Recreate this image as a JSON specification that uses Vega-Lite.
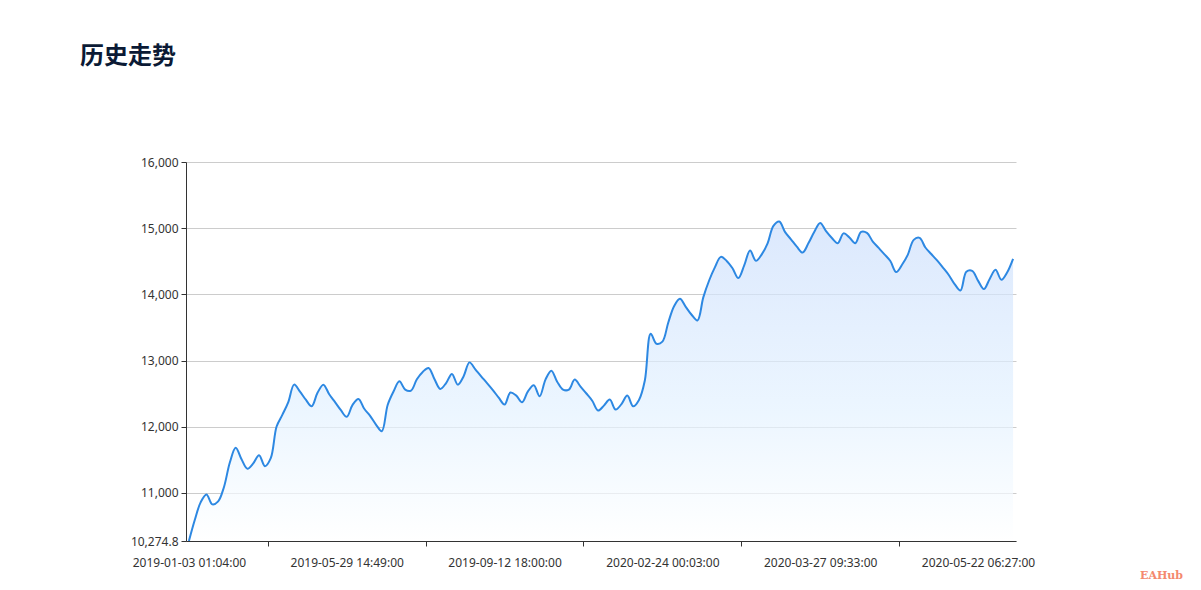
{
  "$schema": "https://vega.github.io/schema/vega-lite/v6.json",
  "description": "历史走势 area chart",
  "width": 830,
  "height": 379,
  "autosize": {"type": "none"},
  "padding": {"left": 186, "top": 162, "right": 185, "bottom": 49},
  "background": "#ffffff",
  "title": {
    "text": "历史走势",
    "anchor": "start",
    "frame": "group",
    "dx": -106,
    "offset": 87,
    "font": "Noto Sans CJK SC",
    "fontSize": 24,
    "fontWeight": "bold",
    "color": "#0b1a35"
  },
  "data": {
    "values": [
      {"i": 0, "v": 10274.8}, {"i": 1, "v": 10591}, {"i": 2, "v": 10858}, {"i": 3, "v": 10978},
      {"i": 4, "v": 10828}, {"i": 5, "v": 10873}, {"i": 6, "v": 11091}, {"i": 7, "v": 11461},
      {"i": 8, "v": 11683}, {"i": 9, "v": 11509}, {"i": 10, "v": 11366}, {"i": 11, "v": 11447},
      {"i": 12, "v": 11571}, {"i": 13, "v": 11405}, {"i": 14, "v": 11526}, {"i": 15, "v": 12004},
      {"i": 16, "v": 12183}, {"i": 17, "v": 12373}, {"i": 18, "v": 12637}, {"i": 19, "v": 12532},
      {"i": 20, "v": 12409}, {"i": 21, "v": 12310}, {"i": 22, "v": 12513}, {"i": 23, "v": 12637},
      {"i": 24, "v": 12491}, {"i": 25, "v": 12372}, {"i": 26, "v": 12251}, {"i": 27, "v": 12150},
      {"i": 28, "v": 12331}, {"i": 29, "v": 12421}, {"i": 30, "v": 12272}, {"i": 31, "v": 12165},
      {"i": 32, "v": 12034}, {"i": 33, "v": 11933}, {"i": 34, "v": 12330}, {"i": 35, "v": 12533},
      {"i": 36, "v": 12687}, {"i": 37, "v": 12562}, {"i": 38, "v": 12547}, {"i": 39, "v": 12719},
      {"i": 40, "v": 12829}, {"i": 41, "v": 12889}, {"i": 42, "v": 12722}, {"i": 43, "v": 12572},
      {"i": 44, "v": 12660}, {"i": 45, "v": 12799}, {"i": 46, "v": 12637}, {"i": 47, "v": 12765},
      {"i": 48, "v": 12973}, {"i": 49, "v": 12868}, {"i": 50, "v": 12762}, {"i": 51, "v": 12660},
      {"i": 52, "v": 12554}, {"i": 53, "v": 12440}, {"i": 54, "v": 12336}, {"i": 55, "v": 12517},
      {"i": 56, "v": 12471}, {"i": 57, "v": 12370}, {"i": 58, "v": 12535}, {"i": 59, "v": 12627},
      {"i": 60, "v": 12461}, {"i": 61, "v": 12713}, {"i": 62, "v": 12848}, {"i": 63, "v": 12681},
      {"i": 64, "v": 12562}, {"i": 65, "v": 12562}, {"i": 66, "v": 12713}, {"i": 67, "v": 12607},
      {"i": 68, "v": 12503}, {"i": 69, "v": 12394}, {"i": 70, "v": 12245}, {"i": 71, "v": 12320},
      {"i": 72, "v": 12411}, {"i": 73, "v": 12260}, {"i": 74, "v": 12342}, {"i": 75, "v": 12471},
      {"i": 76, "v": 12310}, {"i": 77, "v": 12406}, {"i": 78, "v": 12700}, {"i": 79, "v": 13406},
      {"i": 80, "v": 13255}, {"i": 81, "v": 13286}, {"i": 82, "v": 13572}, {"i": 83, "v": 13822},
      {"i": 84, "v": 13934}, {"i": 85, "v": 13812}, {"i": 86, "v": 13693}, {"i": 87, "v": 13607},
      {"i": 88, "v": 13955}, {"i": 89, "v": 14210}, {"i": 90, "v": 14412}, {"i": 91, "v": 14567},
      {"i": 92, "v": 14506}, {"i": 93, "v": 14395}, {"i": 94, "v": 14246}, {"i": 95, "v": 14438},
      {"i": 96, "v": 14662}, {"i": 97, "v": 14507}, {"i": 98, "v": 14605}, {"i": 99, "v": 14772},
      {"i": 100, "v": 15035}, {"i": 101, "v": 15100}, {"i": 102, "v": 14940}, {"i": 103, "v": 14833},
      {"i": 104, "v": 14721}, {"i": 105, "v": 14632}, {"i": 106, "v": 14775}, {"i": 107, "v": 14947},
      {"i": 108, "v": 15080}, {"i": 109, "v": 14955}, {"i": 110, "v": 14852}, {"i": 111, "v": 14774},
      {"i": 112, "v": 14922}, {"i": 113, "v": 14860}, {"i": 114, "v": 14774}, {"i": 115, "v": 14944},
      {"i": 116, "v": 14929}, {"i": 117, "v": 14798}, {"i": 118, "v": 14702}, {"i": 119, "v": 14605},
      {"i": 120, "v": 14504}, {"i": 121, "v": 14337}, {"i": 122, "v": 14447}, {"i": 123, "v": 14601},
      {"i": 124, "v": 14824}, {"i": 125, "v": 14854}, {"i": 126, "v": 14708}, {"i": 127, "v": 14610},
      {"i": 128, "v": 14513}, {"i": 129, "v": 14405}, {"i": 130, "v": 14293}, {"i": 131, "v": 14156},
      {"i": 132, "v": 14059}, {"i": 133, "v": 14341}, {"i": 134, "v": 14356}, {"i": 135, "v": 14208},
      {"i": 136, "v": 14080}, {"i": 137, "v": 14234}, {"i": 138, "v": 14371}, {"i": 139, "v": 14221},
      {"i": 140, "v": 14335}, {"i": 141, "v": 14537}
    ]
  },
  "mark": {
    "type": "area",
    "interpolate": "catmull-rom",
    "clip": true,
    "color": {
      "gradient": "linear",
      "x1": 0, "y1": 0, "x2": 0, "y2": 1,
      "stops": [
        {"offset": 0, "color": "#cddffc"},
        {"offset": 0.6, "color": "#e4f2ff"},
        {"offset": 1, "color": "#ffffff"}
      ]
    },
    "line": {"color": "#2d88e2", "strokeWidth": 2, "interpolate": "catmull-rom"}
  },
  "encoding": {
    "x": {
      "field": "i",
      "type": "quantitative",
      "scale": {"domain": [-0.5, 141.5], "nice": false, "zero": false},
      "axis": {
        "values": [0, 13.5, 27, 40.5, 54, 67.5, 81, 94.5, 108, 121.5, 135],
        "labelExpr": "datum.value == 0 ? '2019-01-03 01:04:00' : datum.value == 27 ? '2019-05-29 14:49:00' : datum.value == 54 ? '2019-09-12 18:00:00' : datum.value == 81 ? '2020-02-24 00:03:00' : datum.value == 108 ? '2020-03-27 09:33:00' : datum.value == 135 ? '2020-05-22 06:27:00' : ''",
        "tickOpacity": {"condition": {"test": "datum.value % 27 == 0", "value": 0}, "value": 1},
        "grid": false,
        "domainColor": "#333333",
        "tickColor": "#333333",
        "tickSize": 5,
        "labelPadding": 11,
        "labelColor": "#333333",
        "labelFontSize": 12,
        "labelFont": "Noto Sans",
        "labelOverlap": false,
        "labelFlush": false,
        "labelBound": false,
        "title": "EAHub",
        "titleX": 975,
        "titleY": 34,
        "titleAlign": "center",
        "titleBaseline": "middle",
        "titleColor": "#f4896e",
        "titleFontSize": 11,
        "titleFontWeight": "bold",
        "titleFont": "DejaVu Serif"
      }
    },
    "y": {
      "field": "v",
      "type": "quantitative",
      "scale": {"domain": [10274.8, 16000], "nice": false, "zero": false},
      "axis": {
        "values": [10274.8, 11000, 12000, 13000, 14000, 15000, 16000],
        "labelExpr": "format(datum.value, ',')",
        "grid": true,
        "gridColor": "#cccccc",
        "domainColor": "#333333",
        "tickColor": "#333333",
        "tickSize": 5,
        "labelPadding": 3,
        "labelColor": "#333333",
        "labelFontSize": 12,
        "labelFont": "Noto Sans",
        "title": null
      }
    },
    "y2": {"datum": 10274.8}
  },
  "config": {
    "view": {"stroke": null}
  }
}
